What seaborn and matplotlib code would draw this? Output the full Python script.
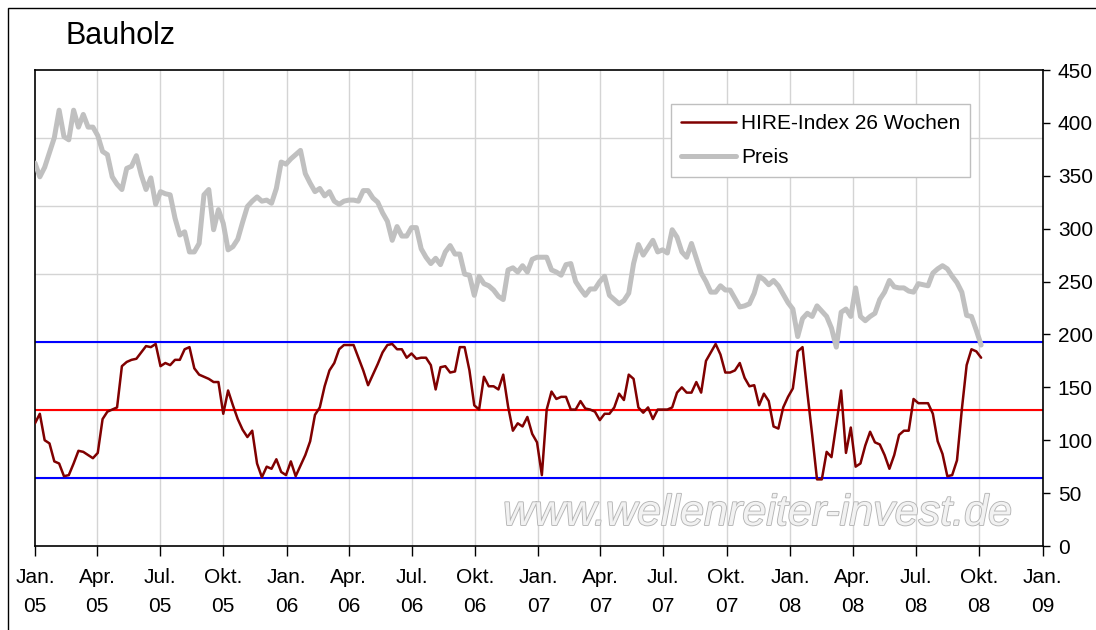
import pandas as pd
import seaborn as sns
import matplotlib.pyplot as plt
import matplotlib.patheffects as pe
from matplotlib.patches import Rectangle

# Wochenwerte Jan. 2005 - Okt. 2008
preis = [362, 349, 358, 372, 386, 412, 387, 384, 412, 396,
         408, 396, 396, 388, 373, 370, 349, 342, 337, 357,
         359, 369, 351, 337, 348, 323, 335, 333, 332, 310,
         294, 297, 278, 278, 286, 332, 337, 299, 318, 305,
         280, 283, 290, 306, 321, 326, 330, 326, 327, 324,
         338, 363, 361, 366, 370, 374, 352, 343, 335, 338,
         331, 335, 326, 323, 326, 327, 327, 326, 336, 336,
         329, 325, 315, 307, 289, 302, 293, 293, 301, 301,
         281, 273, 267, 272, 266, 278, 284, 276, 276, 257,
         256, 237, 255, 248, 246, 242, 236, 233, 261, 263,
         259, 265, 259, 271, 273, 273, 273, 261, 259, 256,
         266, 267, 250, 243, 237, 243, 243, 250, 255, 237,
         233, 229, 232, 239, 267, 285, 275, 282, 289, 278,
         280, 277, 299, 292, 278, 273, 286, 272, 258, 250,
         240, 240, 246, 242, 242, 234, 226, 227, 229, 239,
         255, 252, 247, 251, 246, 238, 230, 224, 198, 215,
         220, 217, 227, 222, 217, 206, 188, 221, 224, 217,
         244, 217, 213, 217, 220, 233, 240, 251, 245, 244,
         244, 241, 240, 248, 247, 246, 258, 262, 265, 262,
         255, 249, 240, 218, 217, 204, 190]

hire = [116, 125, 100, 97, 80, 78, 66, 67, 78, 90,
        89, 86, 83, 88, 120, 127, 129, 131, 170, 174,
        176, 177, 183, 189, 188, 191, 170, 173, 171, 176,
        176, 186, 188, 168, 162, 160, 158, 155, 155, 125,
        147, 133, 120, 110, 103, 109, 78, 65, 75, 73,
        82, 70, 67, 80, 66, 76, 86, 99, 124, 131,
        151, 166, 173, 186, 190, 190, 190, 178, 166, 152,
        162, 172, 183, 190, 191, 186, 186, 178, 182, 177,
        178, 178, 171, 148, 169, 170, 164, 165, 188, 188,
        166, 133, 129, 160, 151, 151, 148, 162, 132, 109,
        116, 113, 122, 106, 98, 67, 129, 146, 139, 141,
        141, 129, 129, 137, 130, 129, 127, 119, 125, 125,
        131, 144, 138, 162, 158, 131, 126, 131, 120, 129,
        129, 129, 131, 145, 150, 145, 145, 155, 145, 175,
        183, 191, 181, 164, 164, 166, 173, 159, 151, 152,
        133, 144, 137, 113, 111, 131, 141, 149, 184, 188,
        145, 105, 63, 63, 89, 84, 115, 147, 88, 112,
        75, 78, 95, 108, 98, 96, 86, 73, 86, 105,
        109, 109, 139, 135, 135, 135, 125, 99, 87, 66,
        67, 81, 129, 171, 186, 184, 178]

datum = pd.date_range('2005-01-01', periods=len(preis), freq='7D')

baender = [64.3, 192.9]      # blaue Linien
mitte = 128.6                # rote Linie
gitter = [64.3, 128.6, 192.9, 257.1, 321.4, 385.7]
quartale = pd.date_range('2005-01-01', '2009-01-01', freq='QS')
monate = {1: 'Jan.', 4: 'Apr.', 7: 'Jul.', 10: 'Okt.'}

df = pd.DataFrame({'Datum': datum, 'Preis': preis, 'HIRE': hire})

sns.set_style('white')
plt.rcParams['font.family'] = ['Liberation Sans', 'DejaVu Sans']
plt.rcParams['text.color'] = 'black'

fig = plt.figure(figsize=(10.96, 6.3), dpi=100)
ax = fig.add_axes([35 / 1096, 84 / 630, 1007.5 / 1096, 476 / 630])

# gitter
for g in gitter:
    ax.axhline(g, color='#d4d4d4', lw=1, zorder=0)
for q in quartale[1:-1]:
    ax.axvline(q, color='#d4d4d4', lw=1, zorder=0)

for b in baender:
    ax.axhline(b, color='#0000ff', lw=1.5, zorder=2)
ax.axhline(mitte, color='#ff0000', lw=1.5, zorder=2)

sns.lineplot(data=df, x='Datum', y='HIRE', ax=ax, color='#800000', lw=1.8,
             label='HIRE-Index 26 Wochen', zorder=3)
sns.lineplot(data=df, x='Datum', y='Preis', ax=ax, color='#c0c0c0', lw=3.6,
             label='Preis', zorder=3)

ax.set_xlim(quartale[0], quartale[-1])
ax.set_ylim(0, 450)
ax.set_xticks(quartale)
ax.set_xticklabels([monate[d.month] + '\n' + d.strftime('%y') for d in quartale],
                   linespacing=1.65)
ax.set_yticks(range(0, 451, 50))
ax.yaxis.tick_right()
ax.tick_params(axis='y', direction='out', length=5, width=1, labelsize=15,
               pad=6, right=True, left=False, color='black', labelcolor='black')
ax.tick_params(axis='x', direction='out', length=7, width=1, labelsize=15,
               pad=9, bottom=True, color='black', labelcolor='black')
ax.set_xlabel('')
ax.set_ylabel('')
for s in ax.spines.values():
    s.set_color('black')
    s.set_linewidth(1.2)

leg = ax.legend(loc='upper left', bbox_to_anchor=(671 / 1096, 1 - 104 / 630),
                bbox_transform=fig.transFigure, fontsize=15, frameon=True,
                fancybox=False, edgecolor='#bfbfbf', framealpha=1,
                handlelength=2.6, handletextpad=0.25, labelspacing=0.7,
                borderpad=0.5, borderaxespad=0)
leg.get_frame().set_linewidth(1)

fig.text(65 / 1096, 1 - 36 / 630, 'Bauholz', fontsize=22, ha='left',
         va='center', color='black')

fig.text(757 / 1096, 1 - 514 / 630, 'www.wellenreiter-invest.de', fontsize=31,
         style='italic', ha='center', va='center', color='#f2f2f2',
         path_effects=[pe.withStroke(linewidth=1.3, foreground='#b5b5b5')])

fig.add_artist(Rectangle((8 / 1096, -0.1), 1.2, 1.1 - 8 / 630,
                         transform=fig.transFigure, fill=False,
                         ec='black', lw=1))

fig.savefig('out.png', dpi=100)
